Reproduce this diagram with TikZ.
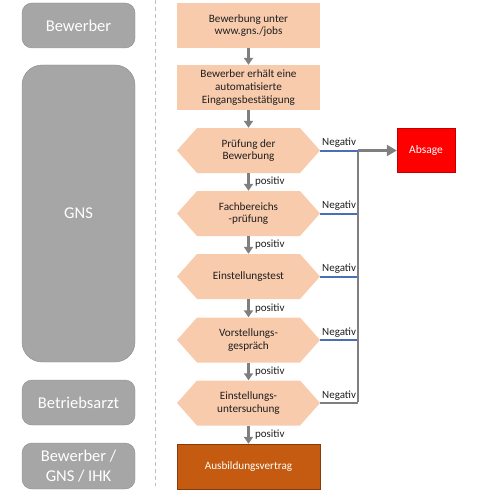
\documentclass[tikz,border=0pt]{standalone}
\usepackage{fontspec}
\setmainfont{Carlito}
\usetikzlibrary{arrows.meta}

\definecolor{lanefill}{HTML}{A6A6A6}
\definecolor{laneline}{HTML}{8C8C8C}
\definecolor{peach}{HTML}{F8CBAD}
\definecolor{flowtext}{HTML}{1F1F1F}
\definecolor{vertragfill}{HTML}{C55A11}
\definecolor{vertragline}{HTML}{843C0C}
\definecolor{absagefill}{HTML}{FF0000}
\definecolor{absageline}{HTML}{C00000}
\definecolor{arrowgray}{HTML}{7F7F7F}
\definecolor{negblue}{HTML}{4A6FB5}
\definecolor{sepgray}{HTML}{BFBFBF}

\tikzset{
  lane/.style={draw=laneline, fill=lanefill, rounded corners=10pt, minimum width=113pt,
    text=white, align=center, font=\fontsize{16.5}{20}\selectfont},
  flowbox/.style={fill=peach, minimum width=143pt, minimum height=45pt, inner sep=0pt,
    text=flowtext, align=center, font=\fontsize{11.2}{12.8}\selectfont},
  hextext/.style={flowbox, fill=none},
  down/.style={draw=arrowgray, line width=3pt, -{Triangle[width=9pt,length=7pt]}},
  neg/.style={draw=negblue, line width=2pt},
  bus/.style={draw=arrowgray, line width=2.2pt},
  lbl/.style={text=flowtext, font=\fontsize{11}{13}\selectfont, inner sep=2pt}
}

\begin{document}
\begin{tikzpicture}[x=1pt, y=-1pt]
\useasboundingbox (0,0) rectangle (477,500);

%lanes
	\foreach \yc/\h/\name/\txt in {25.5/45/bewerber/Bewerber, 402.5/45/arzt/Betriebsarzt, 466/46/ihk/{Bewerber /\\GNS / IHK}}{
		\node[lane, minimum height=\h pt] (\name) at (78.5,\yc) {\txt};
	}
	\node[lane, rounded corners=20pt, minimum height=297pt] (gns) at (78.5,213.5) {GNS};

	\draw[sepgray, line width=0.8pt, dash pattern=on 4pt off 3pt] (155,0) -- (155,486);

%boxes
	\node[flowbox] (web) at (248.5,25.5) {Bewerbung unter\\www.gns./jobs};
	\node[flowbox] (eingang) at (248.5,87.5) {Bewerber erhält eine\\automatisierte\\Eingangsbestätigung};

	\foreach \yc/\name/\txt in {150.5/pruefung/{Prüfung der\\Bewerbung}, 213.5/fach/{Fachbereichs\\-prüfung}, 276.5/test/Einstellungstest, 340/gespraech/{Vorstellungs-\\gespräch}, 403/arztcheck/{Einstellungs-\\untersuchung}}{
		\fill[peach] (177,\yc) -- (197,\yc-22.5) -- (300,\yc-22.5) -- (320,\yc) -- (300,\yc+22.5) -- (197,\yc+22.5) -- cycle;
		\node[hextext] (\name) at (248.5,\yc) {\txt};
	}

	\node[flowbox, fill=vertragfill, draw=vertragline, text=white] (vertrag) at (248.5,466.5) {Ausbildungsvertrag};
	\node[draw=absageline, fill=absagefill, text=white, minimum width=58pt, minimum height=44pt, inner sep=0pt,
		font=\fontsize{11.5}{13}\selectfont] (absage) at (426,150.5) {Absage};

%positiv
	\draw[down] (web) -- (eingang);
	\draw[down] (eingang) -- (pruefung);
	\foreach \a/\b in {pruefung/fach, fach/test, test/gespraech, gespraech/arztcheck, arztcheck/vertrag}{
		\draw[down] (\a) -- (\b) node[midway, right, lbl, xshift=3pt] {positiv};
	}

%negativ
	\coordinate (busx) at (358,0);
	\foreach \a in {pruefung, fach, test, gespraech}{
		\draw[neg] (\a.east) -- (\a.east -| busx) node[midway, above, lbl] {Negativ};
	}
	\draw[bus] (arztcheck.east) -- (arztcheck.east -| busx) node[midway, above, lbl] {Negativ};
	\draw[bus] ([yshift=-1.1pt]pruefung.east -| busx) -- ([yshift=1.1pt]arztcheck.east -| busx);
	\draw[bus, -{Triangle[width=11pt,length=10pt]}] (pruefung.east -| busx) -- (absage);

\end{tikzpicture}
\end{document}
